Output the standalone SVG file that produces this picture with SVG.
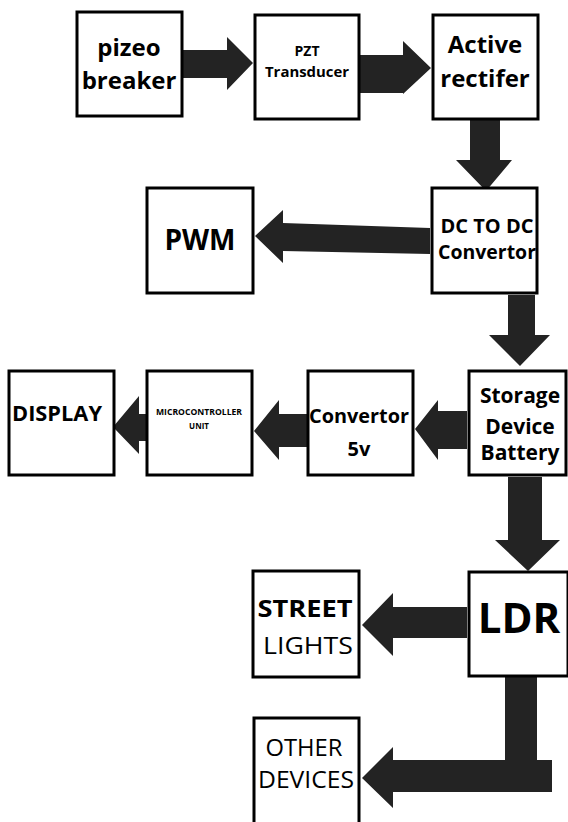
<svg xmlns="http://www.w3.org/2000/svg" width="568" height="822" viewBox="0 0 568 822">
<style>
.box{fill:#fff;stroke:#000;stroke-width:3}
.b{font-family:"Open Sans","Liberation Sans",sans-serif;font-weight:bold;fill:#000;text-anchor:middle}
.r{font-family:"Open Sans","Liberation Sans",sans-serif;font-weight:normal;fill:#000;text-anchor:middle}
.arr{fill:#232323}
</style>
<rect width="568" height="822" fill="#fff"/>
<g id="connectors">
<polygon class="arr" points="183,50 227,50 227,37 253,63 227,90 227,78 183,78"/>
<polygon class="arr" points="359,55 403,55 403,41 431,68 403,94 403,93 359,93"/>
<polygon class="arr" points="470,120 500,120 500,160 512,160 486,191 456,160 470,160"/>
<polygon class="arr" points="430,228 430,254 283,251 283,263 255,236 283,210 283,223"/>
<polygon class="arr" points="508,295 535,295 535,335 550,335 520,366 489,335 508,335"/>
<polygon class="arr" points="467,411 467,449 438,449 438,460 415,429 438,400 438,411"/>
<polygon class="arr" points="307,414 307,447 279,447 279,460 254,431 279,400 279,414"/>
<polygon class="arr" points="147,414 147,441 139,441 139,454 113,427 139,396 139,414"/>
<polygon class="arr" points="508,477 542,477 542,540 560,540 528,571 495,540 508,540"/>
<polygon class="arr" points="467,607 467,638 393,638 393,656 362,625 393,593 393,607"/>
<polygon class="arr" points="505,676 537,676 537,760 552,760 552,792 393,792 393,808 362,778 393,747 393,760 505,760"/>
</g>
<g id="pizeo"><rect class="box" x="77" y="12" width="105" height="104"/><text class="b" x="129" y="56" font-size="24">pizeo</text><text class="b" x="129" y="89" font-size="24">breaker</text></g>
<g id="pzt"><rect class="box" x="255" y="15" width="104" height="104"/><text class="b" x="307" y="56" font-size="14">PZT</text><text class="b" x="307" y="77" font-size="15" textLength="84" lengthAdjust="spacingAndGlyphs">Transducer</text></g>
<g id="rectifier"><rect class="box" x="433" y="15" width="105" height="104"/><text class="b" x="485" y="53" font-size="24">Active</text><text class="b" x="485" y="87" font-size="24">rectifer</text></g>
<g id="dcdc"><rect class="box" x="432" y="188" width="105" height="105"/><text class="b" x="487" y="233" font-size="19" textLength="93" lengthAdjust="spacingAndGlyphs">DC TO DC</text><text class="b" x="487" y="259" font-size="19" textLength="98" lengthAdjust="spacingAndGlyphs">Convertor</text></g>
<g id="pwm"><rect class="box" x="147" y="188" width="106" height="105"/><text class="b" x="200" y="250" font-size="28">PWM</text></g>
<g id="storage"><rect class="box" x="469" y="371" width="97" height="104"/><text class="b" x="520" y="403" font-size="21">Storage</text><text class="b" x="520" y="434" font-size="21">Device</text><text class="b" x="520" y="460" font-size="21">Battery</text></g>
<g id="conv5v"><rect class="box" x="308" y="371" width="105" height="104"/><text class="b" x="359" y="423" font-size="20" textLength="100" lengthAdjust="spacingAndGlyphs">Convertor</text><text class="b" x="359" y="456" font-size="20">5v</text></g>
<g id="mcu"><rect class="box" x="147" y="371" width="105" height="104"/><text class="b" x="199" y="415" font-size="8" textLength="86" lengthAdjust="spacingAndGlyphs">MICROCONTROLLER</text><text class="b" x="199" y="429" font-size="8">UNIT</text></g>
<g id="display"><rect class="box" x="9" y="371" width="105" height="104"/><text class="b" x="57" y="421" font-size="22" textLength="90" lengthAdjust="spacingAndGlyphs">DISPLAY</text></g>
<g id="ldr"><rect class="box" x="469" y="572" width="99" height="104"/><text class="b" x="519" y="633" font-size="42">LDR</text></g>
<g id="street"><rect class="box" x="253" y="571" width="106" height="106"/><text class="b" x="305" y="617" font-size="24" textLength="95" lengthAdjust="spacingAndGlyphs">STREET</text><text class="r" x="308" y="654" font-size="24" textLength="90" lengthAdjust="spacingAndGlyphs">LIGHTS</text></g>
<g id="other"><rect class="box" x="254" y="718" width="105" height="110"/><text class="r" x="304" y="756" font-size="23" textLength="77" lengthAdjust="spacingAndGlyphs">OTHER</text><text class="r" x="306" y="788" font-size="23" textLength="96" lengthAdjust="spacingAndGlyphs">DEVICES</text></g>
</svg>
